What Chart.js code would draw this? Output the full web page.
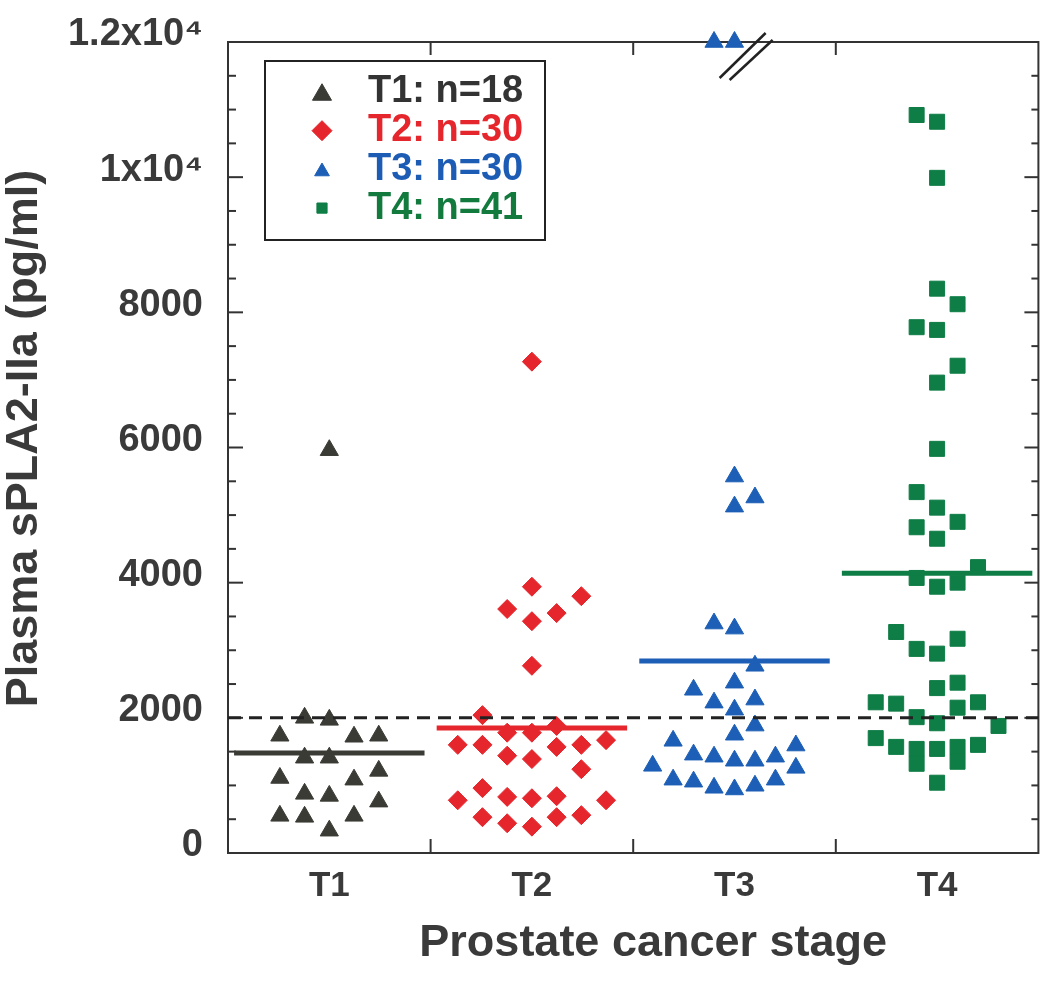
<!DOCTYPE html>
<html><head><meta charset="utf-8">
<script src="https://cdn.jsdelivr.net/npm/chart.js@4/dist/chart.umd.min.js"></script>
<style>html,body{margin:0;padding:0;background:#fff}#wrap{width:1050px;height:988px;position:relative}</style>
</head><body><div id="wrap"><canvas id="c"></canvas></div>
<script>
// ---- data ----
const categories = ['T1', 'T2', 'T3', 'T4'];
const t1Values = [5960, 2000, 1970, 1735, 1720, 1735, 1410, 1410, 1110, 1085, 1215, 875, 845, 760, 550, 535, 550, 330];
const t1Slots  = [0, -1, 0, -2, 1, 2, -1, 0, -2, 1, 2, -1, 0, 2, -2, -1, 1, 0];
const t2Values = [7270, 3940, 3800, 3610, 3550, 3430, 2770, 2040, 1880, 1780, 1780, 1670, 1600, 1600, 1570, 1600, 1440, 1390, 1240, 960, 780, 830, 810, 840, 780, 530, 440, 390, 530, 560];
const t2Slots  = [0, 0, 2, -1, 1, 0, 0, -2, 1, -1, 0, 3, -3, -2, 1, 2, -1, 0, 2, -2, -3, -1, 0, 1, 3, -2, -1, 0, 1, 2];
const t3Values = [12000, 12000, 5570, 5260, 5125, 3395, 3320, 2770, 2520, 2415, 2270, 2225, 2120, 1885, 1750, 1660, 1590, 1455, 1425, 1365, 1365, 1425, 1290, 1260, 1085, 1055, 965, 940, 995, 1085];
const t3Slots  = [-1, 0, 0, 1, 0, -1, 0, 1, 0, -2, 1, -1, 0, 1, 0, -3, 3, -2, -1, 0, 1, 2, -4, 3, -3, -2, -1, 0, 1, 2];
const t4Values = [10920, 10820, 9990, 8350, 8120, 7780, 7740, 7210, 6960, 5980, 5340, 5110, 4900, 4820, 4650, 4230, 4070, 3940, 4000, 3270, 3020, 3170, 2950, 2440, 2520, 2230, 2210, 2230, 2150, 2010, 1920, 1880, 1700, 1570, 1540, 1320, 1540, 1570, 1350, 1600, 1040];
const t4Slots  = [-1, 0, 0, 0, 1, -1, 0, 1, 0, 0, -1, 0, 1, -1, 0, 2, -1, 0, 1, -2, -1, 1, 0, 0, 1, -3, -2, 2, 1, -1, 0, 3, -3, -2, -1, -1, 0, 1, 1, 2, 0];
const means = [1480, 1850, 2840, 4140];
const cutoff = 2000;
const yTickValues = [0, 2000, 4000, 6000, 8000, 10000, 12000];
const yTickLabels = ['0', '2000', '4000', '6000', '8000', '1x10\u2074', '1.2x10\u2074'];
const xTitle = 'Prostate cancer stage';
const yTitle = 'Plasma sPLA2-IIa (pg/ml)';

// ---- styles ----
const colors = ['#3b3b36', '#e5262c', '#1d5fb6', '#0f7d46'];
const textColors = ['#333333', '#e5262c', '#1d5cb4', '#137a3e'];
const shapes = ['triangle', 'rectRot', 'triangle', 'rect'];
const radii = [10.5, 9.5, 10.5, 10.6];
const legendRadii = [11, 10, 8.5, 7.2];
const slotStep = [0.122, 0.122, 0.101, 0.101];
const FONT = '"Liberation Sans", Arial, Helvetica, sans-serif';
const AXIS_COLOR = '#3a3a3a';

Chart.defaults.font.family = FONT;

const groups = [[t1Values, t1Slots], [t2Values, t2Slots], [t3Values, t3Slots], [t4Values, t4Slots]];
const pointSets = groups.map(([vals, slots], i) => ({
  type: 'scatter',
  label: categories[i] + ': n=' + vals.length,
  data: vals.map((v, k) => ({x: i + 1 + slots[k] * slotStep[i], y: v})),
  pointStyle: shapes[i], pointRadius: radii[i], pointHoverRadius: radii[i],
  backgroundColor: colors[i], borderColor: colors[i], borderWidth: 1,
  clip: false, order: 2
}));
const meanSets = means.map((m, i) => ({
  type: 'line', label: 'mean ' + categories[i],
  data: [{x: i + 1 - 0.47, y: m}, {x: i + 1 + 0.47, y: m}],
  borderColor: colors[i], borderWidth: 5, pointRadius: 0, borderCapStyle: 'butt', order: 1
}));
const cutoffSet = {
  type: 'line', label: 'cutoff',
  data: [{x: 0.5, y: cutoff}, {x: 4.5, y: cutoff}],
  borderColor: '#222', borderWidth: 3, borderDash: [13, 8], pointRadius: 0, order: 0
};

function seg(ctx, x1, y1, x2, y2) { ctx.beginPath(); ctx.moveTo(x1, y1); ctx.lineTo(x2, y2); ctx.stroke(); }

const framePlugin = {
  id: 'frame',
  beforeDatasetsDraw(chart) {
    const {ctx, chartArea: a, scales: {x, y}} = chart;
    ctx.save();
    ctx.strokeStyle = '#333'; ctx.lineWidth = 2;
    ctx.strokeRect(a.left, a.top, a.right - a.left, a.bottom - a.top);
    for (let v = 0; v <= 12000; v += 500) {
      const p = y.getPixelForValue(v);
      const L = v % 2000 === 0 ? 15 : 8;
      seg(ctx, a.left, p, a.left + L, p);
      seg(ctx, a.right, p, a.right - (L - 1), p);
    }
    for (let i = 1; i < categories.length; i++) {
      const p = x.getPixelForValue(i + 0.5);
      seg(ctx, p, a.bottom, p, a.bottom - 14);
      seg(ctx, p, a.top, p, a.top + 13);
    }
    ctx.restore();
  },
  afterDatasetsDraw(chart) {
    const {ctx, chartArea: a, scales: {x, y}} = chart;
    ctx.save();
    // axis break marks
    const cx = x.getPixelForValue(3.05), top = y.getPixelForValue(12000);
    ctx.strokeStyle = '#222'; ctx.lineWidth = 2.5;
    seg(ctx, cx - 25, top + 36, cx + 21, top - 9);
    seg(ctx, cx - 15, top + 38, cx + 28, top - 2);
    // legend box
    const bx = a.left + 37, by = a.top + 19, bw = 280, bh = 179;
    ctx.fillStyle = '#fff';
    ctx.fillRect(bx, by, bw, bh);
    ctx.strokeStyle = '#222'; ctx.lineWidth = 2;
    ctx.strokeRect(bx, by, bw, bh);
    ctx.font = 'bold 38px ' + FONT;
    ctx.textBaseline = 'middle'; ctx.textAlign = 'left';
    pointSets.forEach((ds, i) => {
      const cy = by + 31 + i * 38.7;
      ctx.fillStyle = colors[i]; ctx.strokeStyle = colors[i]; ctx.lineWidth = 1;
      const dy = shapes[i] === 'triangle' ? legendRadii[i] * 0.25 : 0;
      Chart.helpers.drawPoint(ctx, {pointStyle: shapes[i], radius: legendRadii[i], borderWidth: 1, rotation: 0}, bx + 57, cy + dy);
      ctx.fillStyle = textColors[i];
      ctx.fillText(ds.label, bx + 103, cy);
    });
    // axis titles
    ctx.fillStyle = AXIS_COLOR;
    ctx.font = 'bold 45px ' + FONT;
    ctx.textAlign = 'center'; ctx.textBaseline = 'middle';
    ctx.fillText(xTitle, (a.left + a.right) / 2 + 20, a.bottom + 91);
    ctx.translate(25, (a.top + a.bottom) / 2 - 9);
    ctx.rotate(-Math.PI / 2);
    ctx.fillText(yTitle, 0, 0);
    ctx.restore();
  }
};

new Chart(document.getElementById('c'), {
  type: 'scatter',
  data: {datasets: [cutoffSet, ...meanSets, ...pointSets]},
  options: {
    responsive: true, maintainAspectRatio: false, animation: false, events: [],
    layout: {padding: {top: 42, right: 11, left: 0, bottom: 0}},
    plugins: {legend: {display: false}, tooltip: {enabled: false}},
    scales: {
      x: {
        type: 'linear', min: 0.5, max: 4.5,
        grid: {display: false, drawTicks: false}, border: {display: false},
        afterBuildTicks: s => { s.ticks = categories.map((c, i) => ({value: i + 1})); },
        ticks: {
          callback: v => categories[Math.round(v) - 1],
          font: {size: 35, weight: 'bold'}, color: AXIS_COLOR, padding: 12,
          maxRotation: 0, autoSkip: false
        },
        title: {display: false},
        afterFit: s => { s.height = 135; s.paddingLeft = 0; s.paddingRight = 0; }
      },
      y: {
        type: 'linear', min: 0, max: 12000,
        grid: {display: false, drawTicks: false}, border: {display: false},
        afterBuildTicks: s => { s.ticks = yTickValues.map(v => ({value: v})); },
        ticks: {
          callback: v => yTickLabels[yTickValues.indexOf(v)],
          font: {size: 38, weight: 'bold'}, color: AXIS_COLOR, padding: 25, labelOffset: -7
        },
        title: {display: false},
        afterFit: s => { s.width = 228; s.paddingTop = 0; s.paddingBottom = 0; }
      }
    }
  },
  plugins: [framePlugin]
});
</script>
</body></html>
